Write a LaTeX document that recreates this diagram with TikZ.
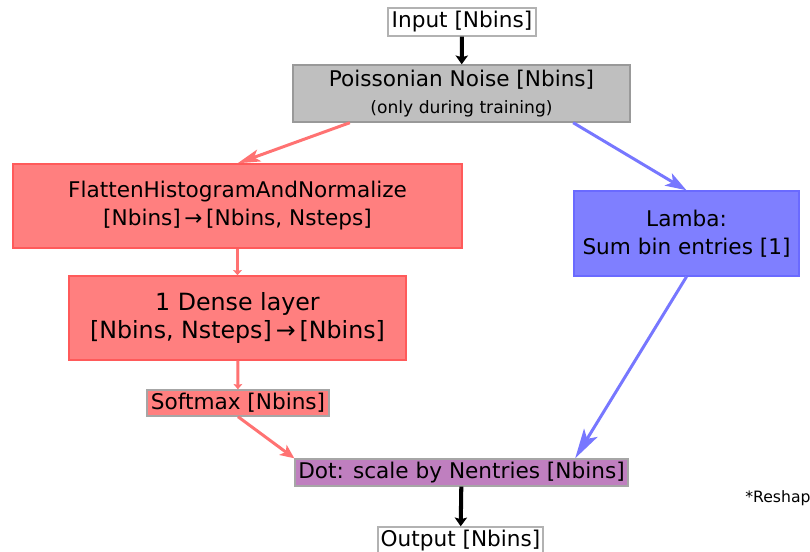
\documentclass[tikz,border=0pt]{standalone}
\usepackage{fontspec}
\setmainfont{DejaVu Sans}
\usepackage{tikz}
\usetikzlibrary{arrows.meta,positioning,calc}
\definecolor{redfill}{HTML}{FF7F7F}
\definecolor{redline}{HTML}{FF5A5A}
\definecolor{redarrow}{HTML}{FF7272}
\definecolor{bluefill}{HTML}{7F7FFF}
\definecolor{blueline}{HTML}{6A6AFF}
\definecolor{bluearrow}{HTML}{7777FF}
\definecolor{grayfill}{HTML}{BFBFBF}
\definecolor{purplefill}{HTML}{BF7FBF}
\tikzstyle{box}=[draw, inner sep=0pt, align=center, font=\fontsize{12.3}{15.9}\selectfont, line width=0.8pt]
\tikzstyle{plain}=[box, draw=black!30, fill=white]
\tikzstyle{noisebox}=[box, draw=black!40, fill=grayfill]
\tikzstyle{redbox}=[box, draw=redline, fill=redfill]
\tikzstyle{bluebox}=[box, draw=blueline, fill=bluefill]
\tikzstyle{dotbox}=[box, draw=black!35, fill=purplefill]
\tikzstyle{blk}=[black, line width=2.3pt, -{Stealth[length=5pt,width=7pt,inset=1pt]}]
\tikzstyle{redarr}=[redarrow, line width=1.7pt]
\tikzstyle{bluearr}=[bluearrow, line width=1.7pt]

\begin{document}
\begin{tikzpicture}[x=0.02cm, y=-0.02cm]
				\useasboundingbox (0,0) rectangle (810,551);
				\clip (0,0) rectangle (810,551);
				\node[plain, minimum width=2.96cm, minimum height=0.56cm](in)at(462,22){Input [Nbins]};
				\node[noisebox, minimum width=6.74cm, minimum height=1.14cm](noise)at(461.5,93.5){Poissonian Noise [Nbins]\\[-1pt]{\fontsize{9.75}{12}\selectfont(only during training)}};
				\node[redbox, minimum width=8.98cm, minimum height=1.68cm](flat)at(237.5,206){FlattenHistogramAndNormalize\\{}[Nbins]\,→\,[Nbins, Nsteps]};
				\node[redbox, minimum width=6.74cm, minimum height=1.68cm, font=\fontsize{13.5}{16}\selectfont](dense)at(237.5,318){1 Dense layer\\{}[Nbins, Nsteps]\,→\,[Nbins]};
				\node[redbox, draw=black!35, minimum width=3.64cm, minimum height=0.52cm](soft)at(238,403){Softmax [Nbins]};
				\node[bluebox, minimum width=4.5cm, minimum height=1.7cm](lamba)at(686.5,233.5){Lamba:\\Sum bin entries [1]};
				\node[dotbox, minimum width=6.66cm, minimum height=0.54cm](dot)at(461.5,472.5){Dot: scale by Nentries [Nbins]};
				\node[plain, minimum width=3.3cm, minimum height=0.56cm](out)at(460.5,541){Output [Nbins]};
				\node[anchor=west, inner sep=0pt, font=\fontsize{8.9}{10}\selectfont](note)at(745,498){*Reshap};
				\draw[blk](in)--(noise);
				\draw[redarr, -{Stealth[length=13pt,width=7pt,inset=3pt]}]($(noise.south west)!0.17!(noise.south east)$)--(flat.north);
				\draw[bluearr, -{Stealth[length=12pt,width=8pt,inset=3pt]}]($(noise.south west)!0.83!(noise.south east)$)--(lamba.north);
				\draw[redarr, -{Stealth[length=3pt,width=5pt,inset=0.5pt]}](flat)--(dense);
				\draw[redarr, -{Stealth[length=3pt,width=5pt,inset=0.5pt]}](dense)--(soft);
				\draw[redarr, -{Stealth[length=8pt,width=7pt,inset=2pt]}](soft.south)--(dot.north west);
				\draw[bluearr, -{Stealth[length=17pt,width=9pt,inset=4pt]}](lamba.south)--($(dot.north west)!0.84!(dot.north east)$);
				\draw[blk](dot)--(out);
			\end{tikzpicture}
\end{document}
